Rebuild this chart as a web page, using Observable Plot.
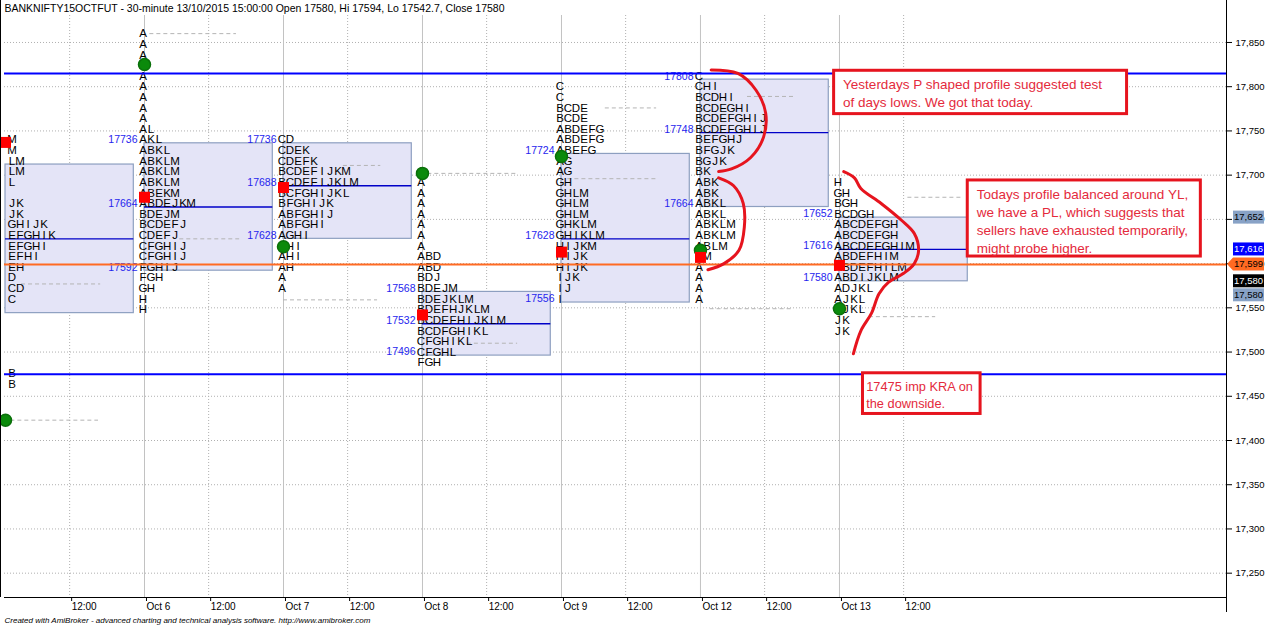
<!DOCTYPE html>
<html><head><meta charset="utf-8">
<script src="https://cdn.jsdelivr.net/npm/d3@7"></script>
<script src="https://cdn.jsdelivr.net/npm/@observablehq/plot@0.6"></script>
<style>body{margin:0;background:#fff;}</style>
</head><body><div id="chart"></div>
<script>
// ---------- DATA ----------
const days = ["Oct 5", "Oct 6", "Oct 7", "Oct 8", "Oct 9", "Oct 12", "Oct 13"];
const dayStart = [0, 13, 26, 39, 52, 65, 78];          // 30-minute slot where each session starts
const noonSlot = [6, 19, 32, 45, 58, 71, 84];           // "12:00" ticks
const topRow = [17736, 17856, 17736, 17700, 17796, 17808, 17688];
const rowStep = 12;

const profOct5 = ["LM","LM","KLM","KLM","KL","K","IJK","IJK","FGHIJK","DEFGHIK","DEFGHI","DEFHI","DEH","CD","BCD","BC","B","B","B","B","B","B","AB","AB","A","A","A"];
const profOct6 = ["A","A","A","A","A","A","A","A","A","AL","AKL","ABKL","ABKLM","ABKLM","ABKLM","ABEKM","ABDEJKM","BDEJM","BCDEFJ","CDEFJ","CFGHIJ","CFGHIJ","FGHIJ","FGH","GH","H","H"];
const profOct7 = ["CD","CDEK","CDEFK","BCDEFIJKM","BCDEFIJKLM","BCFGHIJKL","BFGHIJK","ABFGHIJ","ABFGHI","AGHI","AHI","AHI","AH","A","A"];
const profOct8 = ["A","A","A","A","A","A","A","A","ABD","ABD","BDJ","BDEJM","BDEJKLM","BDEFHJKLM","BCDEFHIJKLM","BCDFGHIKL","CFGHIKL","CFGHL","FGH"];
const profOct9 = ["C","C","BCDE","BCDE","ABDEFG","ABDEFG","ABEFG","AG","AG","GH","GHLM","GHLM","GHLM","GHKLM","GHIKLM","HIJKM","HIJK","HIJK","IJK","IJ","I"];
const profOct12 = ["C","CHI","BCDHI","BCDEGHI","BCDEFGHIJ","BCDEFGHIJ","BEFGHJ","BFGJK","BGJK","BK","ABK","ABK","ABKL","ABKL","ABKLM","ABKLM","ABLM","AM","A","A","A","A"];
const profOct13 = ["H","GH","BGH","BCDGH","ABCDEFGH","ABCDEFGH","ABCDEFGHIM","ABDEFHIM","ABDEFHILM","ABDIJKLM","ADJKL","AJKL","AJKL","JK","JK"];
const profiles = [profOct5, profOct6, profOct7, profOct8, profOct9, profOct12, profOct13];

const vah = [17712, 17736, 17736, 17568, 17724, 17808, 17652];
const poc = [17628, 17664, 17688, 17532, 17628, 17748, 17616];
const val = [17544, 17592, 17628, 17496, 17556, 17664, 17580];

const openPrice  = [17423, 17825, 17619, 17702, 17721, 17615, 17549];
const closePrice = [17737, 17675, 17686, 17542, 17613, 17607, 17598];

// initial-balance style dashed references
const ibDay   = [0, 0, 1, 1, 2, 2, 3, 3, 4, 4, 5, 5, 6, 6];
const ibPrice = [17577, 17423, 17860, 17628, 17711, 17559, 17702, 17510, 17776, 17696, 17789, 17549, 17675, 17540];
const ibFrom  = [1.5, 0.5, 0.5, 3.3, 5.6, 0.0, 0.5, 4.2, 4.1, 0.6, 4.4, 0.9, 6.4, 2.8];
const ibTo    = [8.9, 8.7, 8.6, 8.9, 9.1, 8.8, 8.9, 8.9, 8.9, 9.0, 8.9, 8.6, 11.5, 9.0];

const blueLevels = [17815, 17475];
const orangeLevels = [17599];
const yTicks = [17250, 17300, 17350, 17400, 17450, 17500, 17550, 17600, 17650, 17700, 17750, 17800, 17850];

const tagValue = [17652, 17616, 17599, 17580, 17580];
const tagFill  = ["#88a2c6", "#0000ff", "#ff6a22", "#000000", "#88a2c6"];
const tagInk   = ["#000000", "#ffffff", "#000000", "#ffffff", "#000000"];

const noteText = [
  "Yesterdays P shaped profile suggested test\nof days lows. We got that today.",
  "Todays profile balanced around YL,\nwe have a PL, which suggests that\nsellers have exhausted temporarily,\nmight probe higher.",
  "17475 imp KRA on\nthe downside."
];
const noteX1 = [77.5, 90.0, 80.2];
const noteX2 = [104.9, 111.8, 91.2];
const noteTop = [17818, 17694, 17476];
const noteBottom = [17769, 17608, 17430];

const arc1Slot  = [66.0, 68.5, 70.2, 71.1, 70.9, 69.7, 67.9, 66.7];
const arc1Price = [17819, 17815, 17796, 17770, 17743, 17720, 17707, 17704];
const arc2Slot  = [66.7, 68.1, 69.0, 69.1, 68.6, 67.2, 65.7];
const arc2Price = [17697, 17688, 17668, 17641, 17615, 17600, 17593];
const arc3Slot  = [78.4, 79.4, 80.0, 81.9, 83.8, 85.0, 85.4, 85.0, 84.0, 82.6, 81.7, 81.0, 80.0, 79.3];
const arc3Price = [17704, 17697, 17685, 17668, 17649, 17634, 17615, 17600, 17589, 17579, 17566, 17544, 17524, 17498];

const title = "BANKNIFTY15OCTFUT - 30-minute 13/10/2015 15:00:00 Open 17580, Hi 17594, Lo 17542.7, Close 17580";
const footer = "Created with AmiBroker - advanced charting and technical analysis software. http://www.amibroker.com";

// ---------- LAYOUT ----------
const X_DOMAIN = [-0.094, 114.2];
const Y_DOMAIN = [17222.5, 17880.5];
const colWidth = 0.75, colOffset = -0.14, labelOffset = -0.65, boxWidth = 12, rowDy = -3.5;
const notePad = [0.84, 0.84, 0.3];
const noteSize = [13.5, 13.5, 12.8];
const RED = "#e6141e";

// ---------- DERIVED TABLES ----------
const letters = [];
profiles.forEach((rows, d) => rows.forEach((s, i) => [...s].forEach((ch, j) =>
  letters.push({slot: dayStart[d] + colOffset + j * colWidth, price: topRow[d] - i * rowStep, ch}))));
const vaBoxes = days.map((d, i) => ({x1: dayStart[i], x2: dayStart[i] + boxWidth, vah: vah[i], val: val[i], poc: poc[i]}));
const vaLabels = days.flatMap((d, i) => [vah[i], poc[i], val[i]].map(p => ({slot: dayStart[i] + labelOffset, price: p})));
const opens = days.map((d, i) => ({slot: dayStart[i], price: openPrice[i]}));
const closes = days.map((d, i) => ({slot: dayStart[i], price: closePrice[i]}));
const ib = ibDay.map((d, i) => ({x1: dayStart[d] + ibFrom[i], x2: dayStart[d] + ibTo[i], price: ibPrice[i]}));
const notes = noteText.map((t, i) => ({text: t, x1: noteX1[i], x2: noteX2[i], top: noteTop[i], bottom: noteBottom[i], pad: notePad[i], size: noteSize[i]}));
const arcs = [
  ...arc1Slot.map((s, i) => ({id: 1, slot: s, price: arc1Price[i]})),
  ...arc2Slot.map((s, i) => ({id: 2, slot: s, price: arc2Price[i]})),
  ...arc3Slot.map((s, i) => ({id: 3, slot: s, price: arc3Price[i]}))
];
const xTicks = [...dayStart.slice(1), ...noonSlot];
const xLabel = v => { const k = dayStart.indexOf(v); return k >= 0 ? days[k] : "12:00"; };
const inView = d => d.slot >= X_DOMAIN[0];   // the chart is scrolled: cells left of the window are not drawn

const chart = Plot.plot({
  width: 1267, height: 626,
  marginLeft: 4, marginRight: 41, marginTop: 15, marginBottom: 29,
  x: {domain: X_DOMAIN, axis: null},
  y: {domain: Y_DOMAIN, axis: null},
  style: {fontFamily: "'Liberation Sans', Arial, sans-serif", fontSize: "10px", background: "#fff", overflow: "visible"},
  marks: [
    Plot.ruleY(yTicks, {stroke: "#b0b0b0", strokeDasharray: "1,2"}),
    Plot.ruleX(dayStart.slice(1), {stroke: "#c2c2c2"}),
    Plot.ruleX(noonSlot, {stroke: "#b0b0b0", strokeDasharray: "1,2"}),
    Plot.rect(vaBoxes, {x1: "x1", x2: "x2", y1: "val", y2: "vah", fill: "#e4e4f7", stroke: "#8d9fc0", strokeWidth: 1.2}),
    Plot.ruleY(vaBoxes, {y: "poc", x1: "x1", x2: "x2", stroke: "#0000c8", strokeWidth: 1.3}),
    Plot.ruleY(ib, {y: "price", x1: "x1", x2: "x2", stroke: "#b4b4b4", strokeDasharray: "4,3"}),
    Plot.text(letters, {filter: inView, x: "slot", y: "price", text: "ch", dy: rowDy, fontSize: 11.5, fill: "#000", textAnchor: "middle"}),
    Plot.text(vaLabels, {filter: inView, x: "slot", y: "price", text: d => String(d.price), dy: rowDy, fontSize: 10.5, fill: "#2626ee", textAnchor: "end"}),
    Plot.ruleY(blueLevels, {stroke: "#0000ff", strokeWidth: 2}),
    Plot.ruleY(orangeLevels, {stroke: "#ff6a22", strokeWidth: 2}),
    Plot.dot(opens, {x: "slot", y: "price", r: 6, fill: "#0b8a0b", stroke: "#0a700a"}),
    Plot.dot(closes, {x: "slot", y: "price", r: 6.2, symbol: "square", fill: "#ff0000"}),
    Plot.rect(notes, {x1: "x1", x2: "x2", y1: "bottom", y2: "top", fill: "#fff", stroke: RED, strokeWidth: 3}),
    Plot.text(notes, {x: d => d.x1 + d.pad, y: "top", text: "text", fontSize: "size", dy: 5.5, textAnchor: "start", lineAnchor: "top", lineHeight: 1.33, fill: "#e42a3c"}),
    Plot.line(arcs, {x: "slot", y: "price", z: "id", curve: "catmull-rom", stroke: RED, strokeWidth: 3, strokeLinecap: "round"}),
    Plot.ruleY([Y_DOMAIN[0]], {stroke: "#000"}),
    Plot.axisY(yTicks, {anchor: "right", tickFormat: d3.format(","), tickSize: 5, tickPadding: 4, fontSize: 9.5, stroke: "#000", fill: "#000"}),
    Plot.axisX(xTicks, {anchor: "bottom", tickFormat: xLabel, tickSize: 4, tickPadding: 1, textAnchor: "start", dx: 2, fontSize: 10, stroke: "#000", fill: "#000"}),
    Plot.text([title], {frameAnchor: "top-left", dy: -7, lineAnchor: "middle", fontSize: 10.5, fill: "#000"}),
    Plot.text([footer], {frameAnchor: "bottom-left", dy: 23, lineAnchor: "middle", fontSize: 8, fontStyle: "italic", fill: "#000"})
  ]
});

// axis frame lines and value tags on the price axis, positioned with Plot's y scale
const svg = d3.select(chart);
const ys = chart.scale("y");
const xr = chart.scale("x").range;
const axisX = xr[1];
const g = svg.append("g");
g.append("line").attr("x1", axisX + 0.5).attr("x2", axisX + 0.5).attr("y1", 0).attr("y2", 612).attr("stroke", "#000");
g.append("line").attr("x1", 0.5).attr("x2", 0.5).attr("y1", 0).attr("y2", ys.apply(Y_DOMAIN[0])).attr("stroke", "#000");
let prevY = -100;
tagValue.forEach((v, i) => {
  let cy = ys.apply(v);
  if (cy - prevY < 13) cy = prevY + 14;
  prevY = cy;
  const x0 = axisX + 7, w = 31, h = 13;
  if (tagFill[i] === "#ff6a22") {
    g.append("path").attr("d", `M${axisX + 1},${cy} L${x0},${cy - h / 2} H${x0 + w} V${cy + h / 2} H${x0} Z`).attr("fill", tagFill[i]);
  } else {
    g.append("rect").attr("x", x0).attr("y", cy - h / 2).attr("width", w).attr("height", h).attr("fill", tagFill[i]);
  }
  g.append("text").attr("x", x0 + w / 2).attr("y", cy).attr("dy", "0.35em").attr("text-anchor", "middle")
    .attr("font-size", 9.5).attr("fill", tagInk[i]).text(d3.format(",")(v));
});
document.getElementById("chart").appendChild(chart);
</script></body></html>
